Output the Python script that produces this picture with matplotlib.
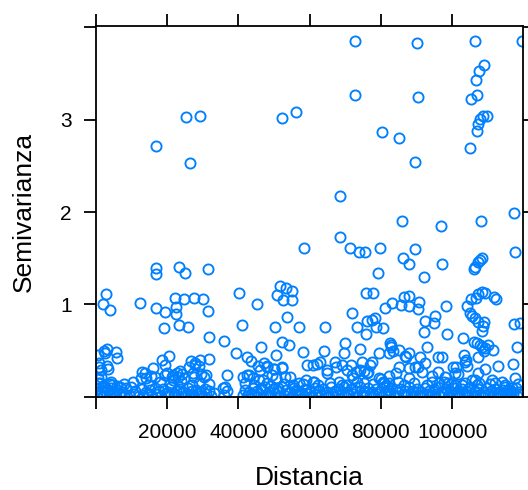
import matplotlib
matplotlib.use('Agg')
import matplotlib.pyplot as plt

plt.rcParams['font.family'] = ['Liberation Sans', 'DejaVu Sans']

# ---- data (distance, semivariance) ----
high_pts = [(72840, 3.856), (90150, 3.827), (106400, 3.856), (119700, 3.849), (108980, 3.596),
            (107650, 3.524), (106610, 3.426), (72840, 3.271), (90530, 3.245), (106900, 3.271),
            (105200, 3.227), (56290, 3.079), (52310, 3.021), (25160, 3.032), (29140, 3.043),
            (109930, 3.043), (108790, 3.036), (107940, 3.010), (107180, 2.956), (106900, 2.873),
            (80410, 2.866), (85140, 2.801), (16840, 2.718), (105010, 2.692), (26490, 2.530),
            (89680, 2.541), (68590, 2.176), (117300, 1.988), (108130, 1.905), (85800, 1.905),
            (96780, 1.850), (68590, 1.735), (58460, 1.608), (71420, 1.608), (79750, 1.608),
            (89680, 1.597), (73790, 1.572), (75400, 1.572), (117780, 1.572), (86280, 1.500),
            (108510, 1.500), (107840, 1.482), (107180, 1.456), (87980, 1.438), (97250, 1.438),
            (106430, 1.409), (106240, 1.381), (23270, 1.409), (16930, 1.391), (16930, 1.330),
            (24880, 1.344), (31500, 1.381), (92050, 1.294), (79270, 1.337)]

mid_pts = [(51750, 1.200), (53260, 1.175), (55150, 1.149), (50800, 1.102), (52500, 1.048), (55150, 1.048),
           (2840, 1.113), (2080, 1.005), (3970, 0.940), (12300, 1.012), (40020, 1.120), (45220, 1.001),
           (22230, 1.073), (24790, 1.059), (27620, 1.073), (30080, 1.059), (22510, 0.976), (22420, 0.896),
           (16930, 0.958), (19390, 0.922), (31500, 0.932), (19200, 0.741), (23170, 0.777), (25730, 0.759),
           (31690, 0.650), (35950, 0.604), (40960, 0.777), (46350, 0.542), (39260, 0.477), (50140, 0.759),
           (53730, 0.860), (57040, 0.759), (52310, 0.596), (54110, 0.560), (57990, 0.488), (50520, 0.452),
           (64330, 0.752), (64140, 0.495), (70000, 0.585), (71900, 0.904), (73320, 0.752), (74260, 0.513),
           (75680, 0.679), (75680, 1.120), (77760, 1.128), (76150, 0.824), (77380, 0.831), (78330, 0.849),
           (78710, 0.759), (80690, 0.748), (81070, 0.958), (83250, 1.019), (85610, 0.994), (86370, 1.084),
           (87980, 1.091), (87980, 0.983), (90820, 1.030), (90340, 0.947), (92420, 0.824), (92240, 0.705),
           (94790, 0.802), (95260, 0.875), (98380, 0.983), (98570, 0.676), (97250, 0.426), (92990, 0.542),
           (82590, 0.585), (82960, 0.535), (83430, 0.499), (82400, 0.470), (79460, 0.470), (86850, 0.441),
           (87980, 0.477), (102930, 0.640), (104060, 0.983), (105010, 0.911), (105670, 0.875), (106430, 0.849),
           (107180, 0.813), (108980, 0.813), (108600, 0.766), (108510, 0.716), (105200, 1.055), (106710, 1.073),
           (107370, 1.109), (108510, 1.131), (109260, 1.128), (111630, 1.084), (112390, 1.055), (106240, 0.596),
           (106900, 0.578), (107840, 0.560), (108320, 0.542), (109260, 0.524), (110010, 0.560), (111440, 0.506),
           (109020, 0.499), (107180, 0.426), (117300, 0.788), (119190, 0.795), (118250, 0.535), (103310, 0.452),
           (69720, 0.470), (500, 0.452), (2370, 0.495), (3120, 0.513), (2650, 0.470), (5680, 0.488),
           (5870, 0.416), (20620, 0.441), (42380, 0.434)]

low_pts = [(950, 0.325), (1420, 0.217), (1890, 0.116), (3310, 0.296), (4260, 0.163), (6620, 0.108),
           (9930, 0.108), (12770, 0.199), (13720, 0.253), (16080, 0.307), (16550, 0.217), (18450, 0.398),
           (19390, 0.343), (19390, 0.235), (21280, 0.217), (21760, 0.181), (22700, 0.253), (23460, 0.278),
           (24600, 0.199), (26010, 0.325), (27910, 0.343), (29140, 0.398), (31690, 0.408), (30930, 0.235),
           (27430, 0.217), (30270, 0.217), (35660, 0.090), (36900, 0.235), (41160, 0.217), (42860, 0.235),
           (43520, 0.387), (45890, 0.181), (45410, 0.332), (47300, 0.361), (48060, 0.325), (49480, 0.235),
           (49860, 0.296), (50610, 0.199), (52310, 0.325), (54580, 0.217), (49000, 0.116), (51090, 0.090),
           (56290, 0.072), (58650, 0.080), (46350, 0.090), (69000, 0.343), (71610, 0.343), (70480, 0.289),
           (74730, 0.379), (76910, 0.343), (77380, 0.372), (61960, 0.354), (62910, 0.379), (67160, 0.379),
           (67350, 0.325), (61210, 0.163), (64800, 0.260), (71900, 0.235), (74070, 0.289), (75210, 0.282),
           (76150, 0.260), (79930, 0.188), (80880, 0.145), (82310, 0.224), (87980, 0.199), (90340, 0.325),
           (91570, 0.271), (92520, 0.361), (94320, 0.224), (96020, 0.271), (97910, 0.217), (100750, 0.126),
           (97630, 0.163), (106430, 0.181), (107560, 0.145), (112110, 0.152), (114950, 0.108), (115700, 0.072),
           (85140, 0.325), (109260, 0.296), (112760, 0.336), (117020, 0.351), (117780, 0.199), (103970, 0.398),
           (101130, 0.325), (101600, 0.246), (104160, 0.336)]

extra_pts = [(60800, 0.343), (65000, 0.289), (68280, 0.163), (72960, 0.271), (76240, 0.271), (72030, 0.199),
             (60800, 0.163), (70150, 0.127), (75290, 0.145), (79500, 0.199), (84180, 0.253), (86980, 0.433),
             (85100, 0.506), (82780, 0.560), (87910, 0.307), (82300, 0.145), (80450, 0.163), (96150, 0.433),
             (103600, 0.379), (91000, 0.433), (89600, 0.325), (100370, 0.325), (100810, 0.253), (105500, 0.181),
             (107400, 0.253), (114840, 0.127), (116700, 0.091), (111100, 0.181), (94280, 0.163), (98960, 0.145),
             (102700, 0.127), (900, 0.36), (1500, 0.29), (3100, 0.33), (13000, 0.27), (15500, 0.22),
             (14000, 0.20), (20000, 0.26), (21500, 0.24), (23000, 0.21), (24200, 0.25), (26600, 0.39),
             (27800, 0.36), (28900, 0.33), (27300, 0.26), (29500, 0.25), (700, 0.20), (600, 0.15),
             (2200, 0.11), (4500, 0.13), (5900, 0.12), (36220, 0.108), (46000, 0.29), (48000, 0.33),
             (50000, 0.30), (52100, 0.31), (42300, 0.23), (44000, 0.20), (47000, 0.18), (50500, 0.20),
             (53000, 0.21), (59130, 0.343), (59000, 0.18), (57000, 0.15)]

band_low = [(300, 0.012), (1100, 0.030), (2000, 0.008), (2700, 0.022), (3600, 0.015), (4500, 0.035),
            (5500, 0.010), (6800, 0.025), (8000, 0.006), (9300, 0.018), (10700, 0.028), (12000, 0.009),
            (13300, 0.020), (14500, 0.033), (15800, 0.012), (17100, 0.024), (18300, 0.007), (19500, 0.030),
            (20600, 0.016), (21800, 0.026), (22900, 0.010), (24000, 0.036), (25200, 0.014), (26300, 0.022),
            (27500, 0.008), (28600, 0.029), (29800, 0.013), (31000, 0.024), (32200, 0.010), (36000, 0.015),
            (41200, 0.020), (42300, 0.009), (43500, 0.031), (44600, 0.014), (45800, 0.025), (46900, 0.007),
            (48100, 0.033), (49200, 0.017), (50400, 0.027), (51500, 0.011), (52700, 0.022), (53800, 0.035),
            (55000, 0.009), (56100, 0.019), (57300, 0.030), (58400, 0.012), (59600, 0.024), (60700, 0.008),
            (61900, 0.028), (63100, 0.015), (64200, 0.021), (65400, 0.006), (66500, 0.032), (67700, 0.014),
            (68800, 0.026), (70000, 0.010), (71100, 0.019), (72300, 0.034), (73400, 0.012), (74600, 0.023),
            (75700, 0.008), (76900, 0.029), (78000, 0.016), (79200, 0.025), (80300, 0.011), (81500, 0.032),
            (82600, 0.013), (83800, 0.021), (84900, 0.007), (86100, 0.027), (87200, 0.015), (88400, 0.033),
            (89500, 0.010), (90700, 0.022), (91800, 0.017), (93000, 0.030), (94100, 0.009), (95300, 0.024),
            (96400, 0.014), (97600, 0.028), (98700, 0.011), (99900, 0.020), (101000, 0.034), (102200, 0.008),
            (103300, 0.025), (104500, 0.016), (105600, 0.030), (106800, 0.010), (107900, 0.022), (109100, 0.013),
            (110200, 0.027), (111400, 0.009), (112500, 0.031), (113700, 0.015), (114800, 0.021), (116000, 0.007),
            (117100, 0.026), (118300, 0.012), (119400, 0.030)]

band_mid = [(700, 0.085), (1600, 0.055), (2500, 0.110), (3300, 0.070), (4200, 0.095), (5000, 0.060),
            (6000, 0.075), (7200, 0.050), (8500, 0.090), (11000, 0.060), (12800, 0.080), (14000, 0.055),
            (15200, 0.070), (16700, 0.095), (17800, 0.060), (18900, 0.085), (20100, 0.050), (21200, 0.100),
            (22400, 0.065), (23500, 0.080), (24500, 0.055), (25800, 0.090), (27000, 0.060), (28100, 0.075),
            (29300, 0.050), (30500, 0.085), (31600, 0.065), (33000, 0.045), (36800, 0.060), (41700, 0.070),
            (42900, 0.050), (44000, 0.095), (45300, 0.060), (46400, 0.080), (47500, 0.110), (48700, 0.055),
            (49800, 0.085), (51000, 0.060), (52100, 0.105), (53300, 0.070), (54400, 0.050), (55600, 0.090),
            (56800, 0.060), (57900, 0.045), (59100, 0.075), (60200, 0.055), (61400, 0.090), (62500, 0.060),
            (63700, 0.080), (64800, 0.050), (66000, 0.100), (67200, 0.065), (68300, 0.080), (69500, 0.110),
            (70600, 0.055), (71800, 0.085), (72900, 0.065), (74000, 0.100), (75200, 0.060), (76400, 0.090),
            (77500, 0.050), (78600, 0.080), (79800, 0.060), (80900, 0.100), (82100, 0.070), (83200, 0.090),
            (84400, 0.055), (85500, 0.080), (86700, 0.060), (87900, 0.105), (89000, 0.065), (90100, 0.085),
            (91300, 0.050), (92500, 0.095), (93600, 0.060), (94800, 0.080), (95900, 0.110), (97100, 0.055),
            (98200, 0.085), (99400, 0.065), (100500, 0.090), (101700, 0.055), (102800, 0.080), (104000, 0.060),
            (105100, 0.100), (106300, 0.065), (107400, 0.085), (108600, 0.050), (109700, 0.095), (110900, 0.060),
            (112000, 0.080), (113200, 0.050), (114300, 0.070), (115500, 0.045), (116600, 0.060), (117800, 0.090),
            (118900, 0.055)]

band_top = [(1200, 0.150), (3900, 0.135), (7800, 0.140), (10400, 0.160), (14800, 0.130), (18000, 0.155),
            (20900, 0.140), (23800, 0.165), (26900, 0.130), (29000, 0.150), (31800, 0.140), (41900, 0.145),
            (44400, 0.130), (47900, 0.150), (52900, 0.140), (55300, 0.125), (58000, 0.140), (62200, 0.130),
            (65700, 0.150), (69200, 0.130), (73300, 0.160), (77800, 0.135), (81700, 0.120), (84800, 0.160),
            (86400, 0.130), (89300, 0.150), (92900, 0.130), (96400, 0.150), (99700, 0.140), (103600, 0.150),
            (106900, 0.130), (110500, 0.140), (113900, 0.160), (118600, 0.140)]

x_ticks = [0, 20000, 40000, 60000, 80000, 100000]
x_ticklabels = ['', '20000', '40000', '60000', '80000', '100000']
y_ticks = [0, 1, 2, 3, 4]
y_ticklabels = ['', '1', '2', '3', '']

COLOR = '#0080ff'

W, H = 528, 490
fig = plt.figure(figsize=(W / 100, H / 100), dpi=100)
L, R, T, B = 96, 523, 26, 396.7
ax = fig.add_axes([L / W, (H - B) / H, (R - L) / W, (B - T) / H])

for grp in (band_low, band_mid, band_top, extra_pts, low_pts, mid_pts, high_pts):
    xs = [p[0] for p in grp]
    ys = [p[1] for p in grp]
    ax.plot(xs, ys, linestyle='none', marker='o', mfc='none', mec=COLOR,
            ms=7.3, mew=1.35)

ax.set_xlim(0, 119900)
ax.set_ylim(0, 4.015)
ax.set_xticks(x_ticks)
ax.set_xticklabels(x_ticklabels)
ax.set_yticks(y_ticks)
ax.set_yticklabels(y_ticklabels)
ax.tick_params(direction='out', length=8.6, width=1.3, top=True, right=True,
               labeltop=False, labelright=False, labelsize=15, colors='black')
ax.tick_params(axis='x', pad=10)
ax.tick_params(axis='y', pad=9)
for s in ax.spines.values():
    s.set_linewidth(1.3)

fig.text(23.6 / W, 1 - 211.5 / H, 'Semivarianza', rotation=90, ha='center', va='center', fontsize=19)
fig.text(309.5 / W, 1 - 478 / H, 'Distancia', ha='center', va='center', fontsize=19)

fig.savefig('out.png', dpi=100)
